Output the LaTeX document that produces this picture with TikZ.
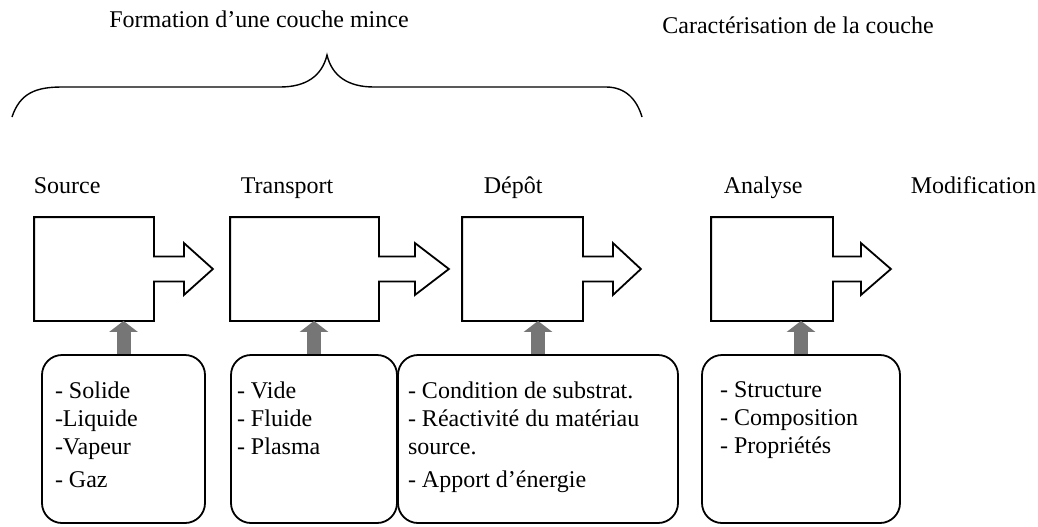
\documentclass[tikz,border=0pt]{standalone}
\usepackage{fontspec}
\setmainfont{Liberation Serif}
\usetikzlibrary{arrows.meta,calc}
\definecolor{feedgray}{RGB}{118,118,118}
\tikzset{
  diagram/.style={
    x=0.5pt,
    y=-0.5pt,
    line width=0.9pt,
    font=\fontsize{12pt}{14pt}\selectfont
  },
  flow-box/.style={rectangle, minimum height=51pt, inner sep=0pt},
  info-box/.style={
    draw,
    rounded corners=10pt,
    minimum height=84pt,
    inner sep=0pt
  },
  info-text/.style={align=left, inner sep=0pt, anchor=north west},
  stage-name/.style={anchor=base west, inner sep=0pt},
  feed-arrow/.style={
    draw=feedgray,
    line width=7pt,
    -{Triangle[length=5.5pt,width=14pt]}
  }
}
\newcommand{\flowoutline}[3]{%
  \draw (#1.north west) -- (#1.north east) -- ([yshift=6.25pt]#1.east)
    -- ++(#2pt,0pt) -- ++(0pt,6.75pt) -- ++(#3pt,-13pt) -- ++(-#3pt,-13pt)
    -- ++(0pt,6.75pt) -- ([yshift=-6.25pt]#1.east) -- (#1.south east)
    -- (#1.south west) -- cycle;
}

\begin{document}
\begin{tikzpicture}[diagram]
  \useasboundingbox (0,0) rectangle (1038,526);
  % titles and brace
  \node[anchor=base] (formtitle) at (259,27) {Formation d'une couche mince};
  \node[anchor=base] (cartitle) at (798,33) {Caractérisation de la couche};
  \draw[line width=0.7pt] (12,117) .. controls (20,93) and (36,87) .. (62,87) -- (280,87)
    .. controls (306,87) and (322,76) .. (327,55)
    .. controls (332,76) and (348,87) .. (374,87) -- (606,87)
    .. controls (626,87) and (637,100) .. (642,117);
  % stage names
  \node[stage-name] (srcname) at (33,193) {Source};
  \node[stage-name] (transname) at (240,193) {Transport};
  \node[stage-name] (depname) at (483,193) {Dépôt};
  \node[stage-name] (ananame) at (723,193) {Analyse};
  \node[stage-name] (modname) at (910,193) {Modification};
  % boxes with outgoing arrows
  \foreach \name/\x/\w/\stem/\head in
    {src/94/118/15/14.5, trans/304.5/147/18/17, dep/522.5/119/15/14, ana/772/120/14/15} {
    \node[flow-box, minimum width=\w*0.5pt] (\name) at (\x,269) {};
    \flowoutline{\name}{\stem}{\head}
  }
  % info boxes
  \node[info-box, minimum width=81.5pt] (srcinfo) at (123.5,439) {};
  \node[info-box, minimum width=83pt] (transinfo) at (314,439) {};
  \node[info-box, minimum width=140pt] (depinfo) at (538,439) {};
  \node[info-box, minimum width=99pt] (anainfo) at (801,439) {};
  \node[info-text] (srctext) at ([xshift=6.5pt,yshift=-13.4pt]srcinfo.north west)
    {- Solide\\-Liquide\\-Vapeur\\[2.5pt]- Gaz};
  \node[info-text] (transtext) at ([xshift=3pt,yshift=-13.4pt]transinfo.north west)
    {- Vide\\- Fluide\\- Plasma};
  \node[info-text] (deptext) at ([xshift=5pt,yshift=-13.4pt]depinfo.north west)
    {- Condition de substrat.\\- Réactivité du matériau\\source.\\[2.5pt]- Apport d'énergie};
  \node[info-text] (anatext) at ([xshift=9pt,yshift=-13.4pt]anainfo.north west)
    {- Structure\\- Composition\\- Propriétés};
  % feeding arrows
  \foreach \name in {src,trans,dep,ana} {
    \draw[feed-arrow] (\name info.north) -- (\name info.north |- \name.south);
  }
\end{tikzpicture}
\end{document}
